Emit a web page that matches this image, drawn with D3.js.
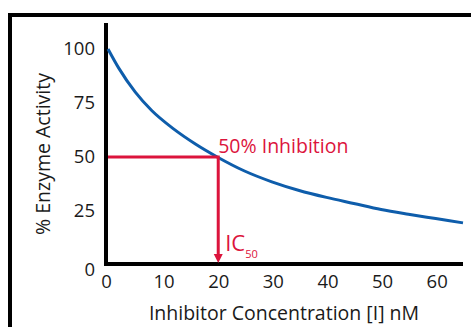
<!DOCTYPE html>
<html><head><meta charset="utf-8">
<script src="https://cdn.jsdelivr.net/npm/d3@7"></script>
<style>
body{margin:0;background:#fff;}
svg{display:block;}
text{font-family:"Open Sans",sans-serif;}
</style></head>
<body>
<svg id="c" width="471" height="327"></svg>
<script>
// Data
const concentration = [0, 2, 5, 8, 12, 16, 20, 25, 30, 35, 40, 45, 50, 55, 60, 65];
const activity      = [100, 91, 80, 71.5, 63, 56, 50, 43.5, 38.5, 34.5, 31.3, 28.5, 25.7, 23.5, 21.5, 19.5];
const xTicks = [0, 10, 20, 30, 40, 50, 60];
const yTicks = [0, 25, 50, 75, 100];
const ic50 = 20;
const halfActivity = 50;

const svg = d3.select("#c");
const blue = "#0e5dab", red = "#dc143c", ink = "#1a1a1a";
const tickFs = 18.5, titleFs = 19.5;

// outer frame
svg.append("rect").attr("x",10).attr("y",15).attr("width",500).attr("height",340)
  .attr("fill","none").attr("stroke","#000").attr("stroke-width",4);

const x = d3.scaleLinear().domain([0, 65]).range([108, 463]);
const y = d3.scaleLinear().domain([0, 112]).range([265, 23]);

// axes
const xAxis = d3.axisBottom(x).tickValues(xTicks).tickSize(0).tickPadding(11);
const gx = svg.append("g").attr("transform",`translate(0,${y(0)-1})`).call(xAxis);
gx.select(".domain").remove();
gx.selectAll("text").attr("font-size",tickFs).attr("fill",ink)
  .attr("font-family","'Open Sans',sans-serif")
  .attr("dx", d => d===0 ? -2 : 1);

const yAxis = d3.axisLeft(y).tickValues(yTicks).tickSize(0).tickPadding(11);
const gy = svg.append("g").attr("transform",`translate(${x(0)-2},0)`).call(yAxis);
gy.select(".domain").remove();
gy.selectAll("text").attr("font-size",tickFs).attr("fill",ink)
  .attr("font-family","'Open Sans',sans-serif")
  .attr("dy", d => d===0 ? "0.55em" : "0.32em");

// axis lines
svg.append("line").attr("x1",x(0)-2).attr("x2",x(0)-2).attr("y1",y(112)).attr("y2",y(0)+1)
  .attr("stroke","#000").attr("stroke-width",4);
svg.append("line").attr("x1",x(0)-4).attr("x2",x(65)).attr("y1",y(0)-1).attr("y2",y(0)-1)
  .attr("stroke","#000").attr("stroke-width",4);

// axis titles
svg.append("text").attr("x",284).attr("y",320).attr("text-anchor","middle")
  .attr("font-size",titleFs).attr("fill",ink).text("Inhibitor Concentration [I] nM");
svg.append("text").attr("transform","translate(50,154) rotate(-90)").attr("text-anchor","middle")
  .attr("font-size",titleFs).attr("fill",ink).text("% Enzyme Activity");

// curve
const pts = concentration.map((c,i)=>[c, activity[i]]);
svg.append("path").datum(pts)
  .attr("d", d3.line().x(d=>x(d[0])).y(d=>y(d[1])).curve(d3.curveMonotoneX))
  .attr("fill","none").attr("stroke",blue).attr("stroke-width",3);

// red IC50 guide
svg.append("path")
  .attr("d", `M${x(0)},${y(halfActivity)}H${x(ic50)+1}V${y(0)-10}`)
  .attr("fill","none").attr("stroke",red).attr("stroke-width",3);
svg.append("path")
  .attr("d", `M${x(ic50)-3.5},${y(0)-11}L${x(ic50)+5.5},${y(0)-11}L${x(ic50)+1},${y(0)-2}Z`)
  .attr("fill",red);

svg.append("text").attr("x",x(ic50)+1).attr("y",y(halfActivity)-4)
  .attr("font-size",titleFs).attr("fill",red).text("50% Inhibition");
const ic = svg.append("text").attr("x",x(ic50)+8).attr("y",251)
  .attr("font-size",22).attr("fill",red);
ic.append("tspan").text("IC");
ic.append("tspan").attr("font-size",11).attr("dy",7).text("50");
</script>
</body></html>
